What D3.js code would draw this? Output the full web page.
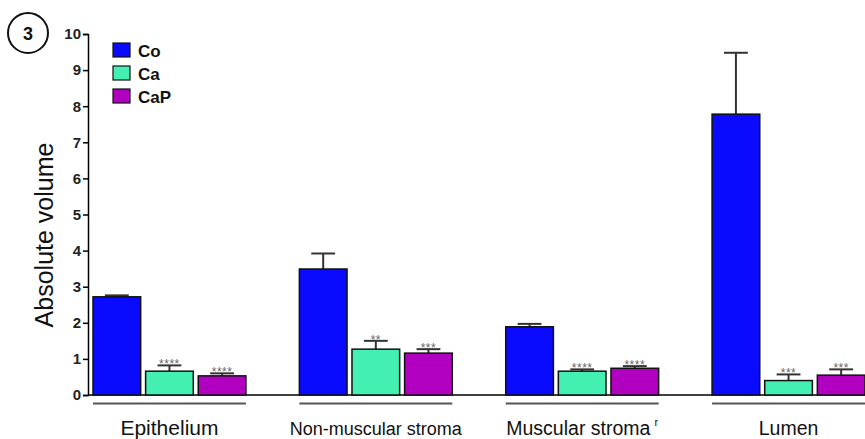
<!DOCTYPE html>
<html>
<head>
<meta charset="utf-8">
<script src="https://cdn.jsdelivr.net/npm/d3@7"></script>
<style>
  body { margin: 0; background: #fff; }
  text { font-family: "Liberation Sans", Arial, sans-serif; }
</style>
</head>
<body>
<svg id="chart" width="865" height="439"></svg>
<script>
// data
const groups = ['Epithelium', 'Non-muscular stroma', 'Muscular stroma', 'Lumen'];
const series = ['Co', 'Ca', 'CaP'];
const means = {
  Co:  [2.72, 3.49, 1.89, 7.78],
  Ca:  [0.66, 1.27, 0.66, 0.40],
  CaP: [0.53, 1.16, 0.74, 0.55]
};
const errTop = {
  Co:  [2.76, 3.92, 1.97, 9.48],
  Ca:  [0.82, 1.50, 0.71, 0.57],
  CaP: [0.60, 1.27, 0.80, 0.71]
};
const stars = {
  Co:  ['', '', '', ''],
  Ca:  ['****', '**', '****', '***'],
  CaP: ['****', '***', '****', '***']
};
const yTicks = [0, 1, 2, 3, 4, 5, 6, 7, 8, 9, 10];

const colors = { Co: '#0a0aff', Ca: '#43f0b2', CaP: '#b200c0' };
const labelSize = { 'Epithelium': 21, 'Non-muscular stroma': 18, 'Muscular stroma': 19.5, 'Lumen': 19.5 };

const svg = d3.select('#chart');

// scales
const y = d3.scaleLinear().domain([0, 10]).range([395, 34]);
const x0 = d3.scaleBand().domain(groups).range([93, 865]).paddingInner(0.259).paddingOuter(0);
const x1 = d3.scaleBand().domain(series).range([0, x0.bandwidth()]).paddingInner(0.094);

// flatten for drawing
const rows = [];
groups.forEach((g, i) => series.forEach(s => {
  rows.push({ g, s, v: means[s][i], e: errTop[s][i], star: stars[s][i] });
}));

// y axis
const yAxis = svg.append('g')
  .attr('transform', 'translate(88,0)')
  .call(d3.axisLeft(y).tickValues(yTicks).tickSize(5).tickPadding(2));
yAxis.attr('font-size', null).attr('font-family', null);
yAxis.select('.domain').attr('stroke', '#000').attr('stroke-width', 1.5);
yAxis.selectAll('.tick line').attr('stroke', '#000').attr('stroke-width', 1.5);
yAxis.selectAll('.tick text')
  .style('font-size', '15px')
  .style('font-weight', 'bold')
  .attr('fill', '#222');

// x baseline
svg.append('line')
  .attr('x1', 88).attr('x2', 865)
  .attr('y1', y(0)).attr('y2', y(0))
  .attr('stroke', '#000').attr('stroke-width', 1.5);

// error bars (drawn behind bars)
const err = svg.append('g').selectAll('g')
  .data(rows.filter(d => d.e > d.v))
  .enter().append('g')
  .attr('stroke', '#333').attr('stroke-width', 2);
err.append('line')
  .attr('x1', d => x0(d.g) + x1(d.s) + x1.bandwidth() / 2)
  .attr('x2', d => x0(d.g) + x1(d.s) + x1.bandwidth() / 2)
  .attr('y1', d => y(d.v)).attr('y2', d => y(d.e));
err.append('line')
  .attr('x1', d => x0(d.g) + x1(d.s) + x1.bandwidth() / 4)
  .attr('x2', d => x0(d.g) + x1(d.s) + x1.bandwidth() * 3 / 4)
  .attr('y1', d => y(d.e)).attr('y2', d => y(d.e));

// bars
svg.append('g').selectAll('rect')
  .data(rows)
  .enter().append('rect')
  .attr('x', d => x0(d.g) + x1(d.s))
  .attr('y', d => y(d.v))
  .attr('width', x1.bandwidth())
  .attr('height', d => y(0) - y(d.v))
  .attr('fill', d => colors[d.s])
  .attr('stroke', '#111')
  .attr('stroke-width', 1.5);

// significance stars
svg.append('g').selectAll('text')
  .data(rows.filter(d => d.star))
  .enter().append('text')
  .attr('x', d => x0(d.g) + x1(d.s) + x1.bandwidth() / 2)
  .attr('y', d => y(d.e) + 3)
  .attr('text-anchor', 'middle')
  .attr('font-size', 12)
  .attr('letter-spacing', 0.5)
  .attr('fill', '#666')
  .text(d => d.star);

// group underlines and labels
svg.append('g').selectAll('line')
  .data(groups)
  .enter().append('line')
  .attr('x1', d => x0(d)).attr('x2', d => x0(d) + x0.bandwidth())
  .attr('y1', 403.5).attr('y2', 403.5)
  .attr('stroke', '#555').attr('stroke-width', 2);

const xl = svg.append('g').selectAll('text')
  .data(groups)
  .enter().append('text')
  .attr('x', d => x0(d) + x0.bandwidth() / 2)
  .attr('y', 435)
  .attr('text-anchor', 'middle')
  .attr('font-size', d => labelSize[d])
  .attr('fill', '#111')
  .text(d => d);
xl.filter(d => d === 'Muscular stroma')
  .append('tspan').attr('dx', 4).attr('dy', -9).attr('font-size', 11).text('r');

// y axis title
svg.append('text')
  .attr('transform', 'translate(53,235) rotate(-90)')
  .attr('text-anchor', 'middle')
  .attr('font-size', 25)
  .attr('fill', '#111')
  .text('Absolute volume');

// legend
const leg = svg.append('g').selectAll('g')
  .data(series)
  .enter().append('g')
  .attr('transform', (d, i) => `translate(113,${43 + i * 23})`);
leg.append('rect')
  .attr('width', 17).attr('height', 14)
  .attr('fill', d => colors[d])
  .attr('stroke', '#111').attr('stroke-width', 1.2);
leg.append('text')
  .attr('x', 25).attr('y', 13.5)
  .attr('font-size', 17)
  .attr('font-weight', 'bold')
  .attr('fill', '#111')
  .text(d => d);

// panel number
svg.append('circle')
  .attr('cx', 28).attr('cy', 33).attr('r', 20)
  .attr('fill', 'none').attr('stroke', '#111').attr('stroke-width', 2);
svg.append('text')
  .attr('x', 28).attr('y', 39.5)
  .attr('text-anchor', 'middle')
  .style('font-size', '18px')
  .style('font-weight', 'bold')
  .attr('fill', '#111')
  .text('3');
</script>
</body>
</html>
